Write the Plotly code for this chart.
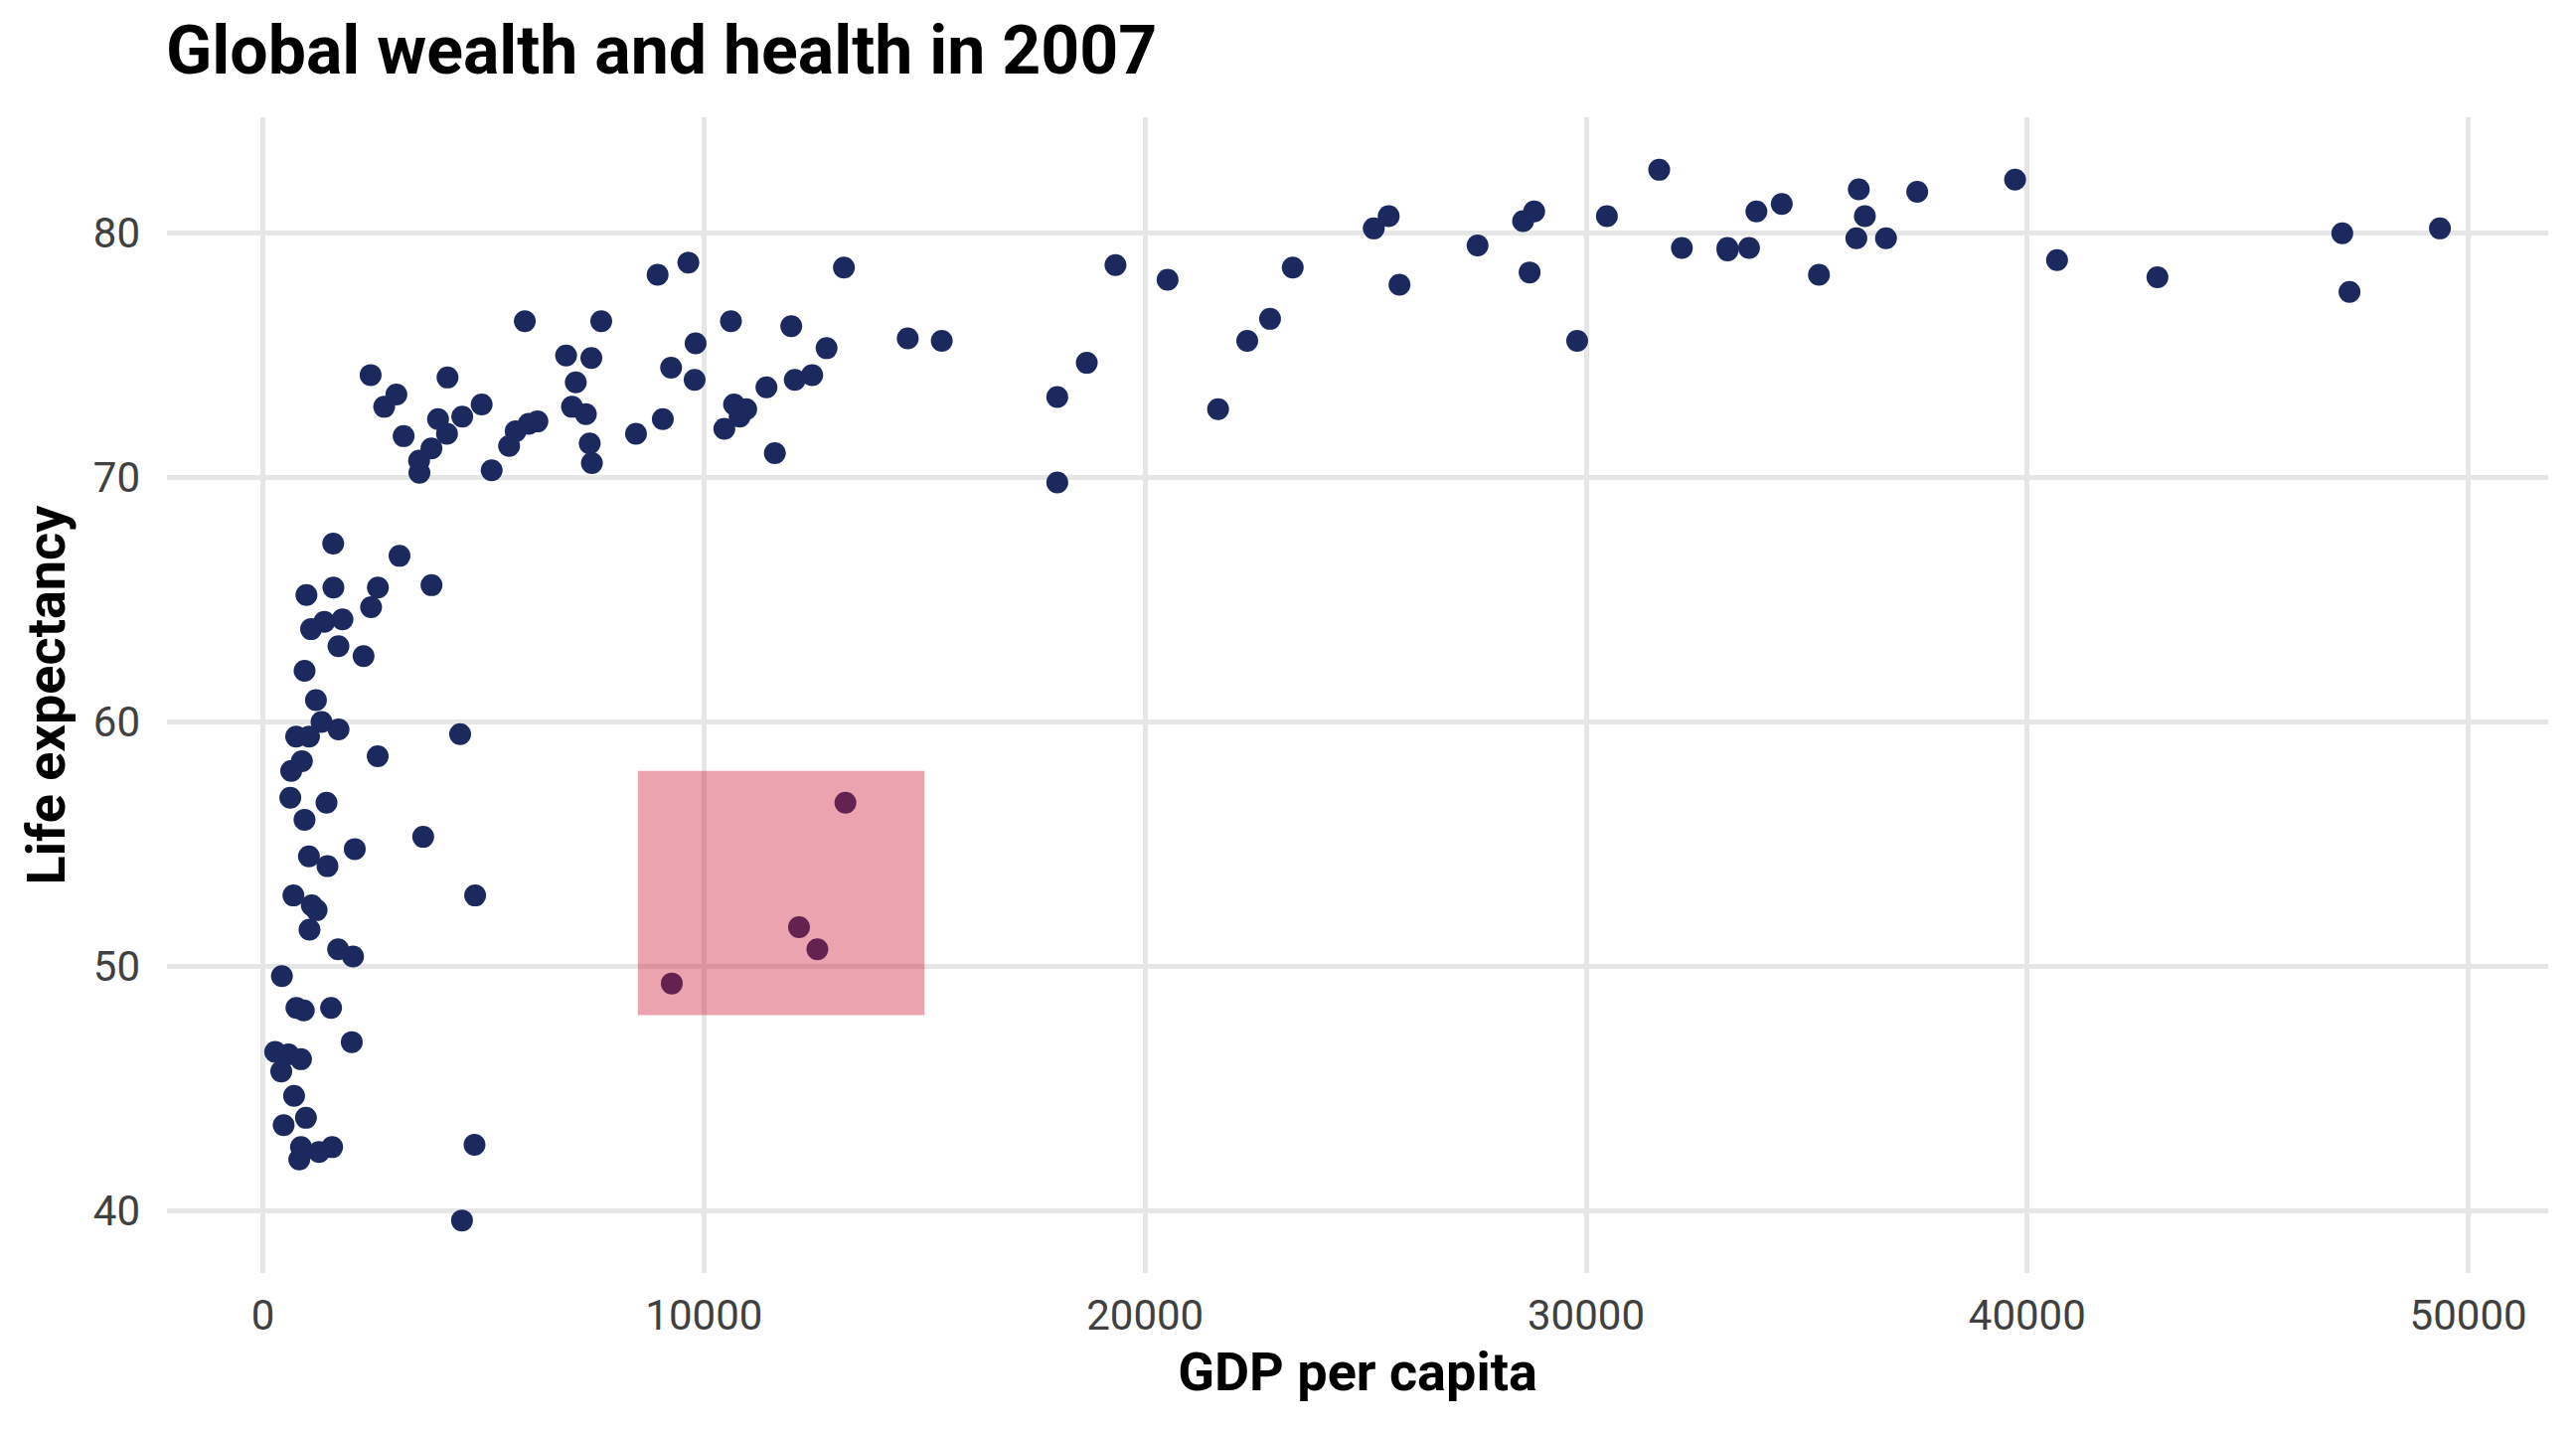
import plotly.graph_objects as go

# ---- data (gapminder-style values, 2007) ----
countries = [
    "Afghanistan", "Albania", "Algeria", "Angola", "Argentina", "Australia", "Austria", "Bahrain", "Bangladesh", "Belgium",
    "Benin", "Bolivia", "Bosnia and Herzegovina", "Botswana", "Brazil", "Bulgaria", "Burkina Faso", "Burundi", "Cambodia", "Cameroon",
    "Canada", "Central African Republic", "Chad", "Chile", "China", "Colombia", "Comoros", "Congo, Dem. Rep.", "Congo, Rep.", "Costa Rica",
    "Cote d'Ivoire", "Croatia", "Cuba", "Czech Republic", "Denmark", "Djibouti", "Dominican Republic", "Ecuador", "Egypt", "El Salvador",
    "Equatorial Guinea", "Eritrea", "Ethiopia", "Finland", "France", "Gabon", "Gambia", "Germany", "Ghana", "Greece",
    "Guatemala", "Guinea", "Guinea-Bissau", "Haiti", "Honduras", "Hong Kong, China", "Hungary", "Iceland", "India", "Indonesia",
    "Iran", "Iraq", "Ireland", "Israel", "Italy", "Jamaica", "Japan", "Jordan", "Kenya", "Korea, Dem. Rep.",
    "Korea, Rep.", "Kuwait", "Lebanon", "Lesotho", "Liberia", "Libya", "Madagascar", "Malawi", "Malaysia", "Mali",
    "Mauritania", "Mauritius", "Mexico", "Mongolia", "Montenegro", "Morocco", "Mozambique", "Myanmar", "Namibia", "Nepal",
    "Netherlands", "New Zealand", "Nicaragua", "Niger", "Nigeria", "Norway", "Oman", "Pakistan", "Panama", "Paraguay",
    "Peru", "Philippines", "Poland", "Portugal", "Puerto Rico", "Reunion", "Romania", "Rwanda", "Sao Tome and Principe", "Saudi Arabia",
    "Senegal", "Serbia", "Sierra Leone", "Singapore", "Slovak Republic", "Slovenia", "Somalia", "South Africa", "Spain", "Sri Lanka",
    "Sudan", "Swaziland", "Sweden", "Switzerland", "Syria", "Taiwan", "Tanzania", "Thailand", "Togo", "Trinidad and Tobago",
    "Tunisia", "Turkey", "Uganda", "United Kingdom", "United States", "Uruguay", "Venezuela", "Vietnam", "West Bank and Gaza", "Yemen, Rep.",
    "Zambia", "Zimbabwe",
]

gdp_per_capita = [
    975, 5937, 6223, 4797, 12779, 34435, 36126, 29796, 1391, 33693,
    1441, 3822, 7446, 12570, 9066, 10681, 1217, 430, 1714, 2042,
    36319, 706, 1704, 13172, 4959, 7007, 986, 278, 3633, 9645,
    1545, 14619, 8948, 22833, 35278, 2082, 6025, 6873, 5581, 5728,
    12154, 641, 691, 33207, 30470, 13206, 753, 32170, 1328, 27538,
    5186, 943, 579, 1202, 3548, 39725, 18009, 36181, 2452, 3541,
    11606, 4471, 40676, 25523, 28570, 7321, 31656, 4519, 1463, 1593,
    23348, 47307, 10461, 1569, 415, 12058, 1045, 759, 12452, 1043,
    1803, 10957, 11978, 3096, 9254, 3820, 824, 944, 4811, 1091,
    36798, 25185, 2749, 620, 2014, 49357, 22316, 2606, 9809, 4173,
    7409, 3190, 15390, 20510, 19329, 7670, 10808, 863, 1598, 21655,
    1712, 9787, 863, 47143, 18678, 25768, 926, 9270, 28821, 3970,
    2602, 4513, 33860, 37506, 4185, 28718, 1107, 7458, 883, 18009,
    7093, 8458, 1056, 33203, 42952, 10611, 11416, 2442, 3025, 2281,
    1271, 470,
]

life_expectancy = [
    43.8, 76.4, 72.3, 42.7, 75.3, 81.2, 79.8, 75.6, 64.1, 79.4,
    56.7, 65.6, 74.9, 50.7, 72.4, 73.0, 52.3, 49.6, 59.7, 50.4,
    80.7, 44.7, 50.7, 78.6, 73.0, 72.9, 65.2, 46.5, 55.3, 78.8,
    48.3, 75.7, 78.3, 76.5, 78.3, 54.8, 72.2, 75.0, 71.3, 71.9,
    51.6, 58.0, 52.9, 79.3, 80.7, 56.7, 59.4, 79.4, 60.0, 79.5,
    70.3, 56.0, 46.4, 60.9, 70.2, 82.2, 73.3, 81.8, 64.7, 70.7,
    71.0, 59.5, 78.9, 80.7, 80.5, 72.6, 82.6, 72.5, 54.1, 67.3,
    78.6, 77.6, 72.0, 42.6, 45.7, 74.0, 59.4, 48.3, 74.2, 54.5,
    64.2, 72.8, 76.2, 66.8, 74.5, 71.2, 42.1, 62.1, 52.9, 63.8,
    79.8, 80.2, 72.9, 56.9, 46.9, 80.2, 75.6, 65.5, 75.5, 71.8,
    71.4, 71.7, 75.6, 78.1, 78.7, 76.4, 72.5, 46.2, 65.5, 72.8,
    63.1, 74.0, 42.6, 80.0, 74.7, 77.9, 48.2, 49.3, 80.9, 72.4,
    58.6, 39.6, 80.9, 81.7, 74.1, 78.4, 52.5, 70.6, 58.4, 69.8,
    73.9, 71.8, 51.5, 79.4, 78.2, 76.4, 73.7, 74.2, 73.4, 62.7,
    42.4, 43.5,
]

x_ticks = [0, 10000, 20000, 30000, 40000, 50000]
y_ticks = [40, 50, 60, 70, 80]
highlight_x = [8500, 15000]
highlight_y = [48, 58]

assert len(countries) == len(gdp_per_capita) == len(life_expectancy)

# ggplot-like 5% expansion of the data range
def expanded(vals, f=0.05):
    lo, hi = min(vals), max(vals)
    pad = (hi - lo) * f
    return [lo - pad, hi + pad]

FONT = "Roboto, 'Open Sans', sans-serif"
GRID = "#E6E6E6"

fig = go.Figure()
fig.add_trace(go.Scatter(
    x=gdp_per_capita, y=life_expectancy, mode="markers", text=countries,
    marker=dict(size=22, color="#1B295E", line=dict(width=0)),
    hovertemplate="%{text}<br>GDP per capita: %{x}<br>Life expectancy: %{y}<extra></extra>",
    showlegend=False,
))

fig.add_shape(
    type="rect", xref="x", yref="y",
    x0=highlight_x[0], x1=highlight_x[1], y0=highlight_y[0], y1=highlight_y[1],
    fillcolor="rgba(207,25,58,0.4)", line=dict(width=0), layer="above",
)

fig.update_layout(
    width=2592, height=1440,
    margin=dict(l=168, r=28, t=118, b=159),
    paper_bgcolor="white", plot_bgcolor="white",
    font=dict(family=FONT, color="#404040"),
    title=dict(
        text="Global wealth and health in 2007",
        x=167 / 2592, xref="container", xanchor="left",
        y=1 - 50 / 1440, yref="container", yanchor="middle",
        font=dict(family=FONT, size=68, color="black", weight=700),
    ),
    xaxis=dict(
        range=expanded(gdp_per_capita), tickvals=x_ticks,
        ticktext=[str(v) for v in x_ticks],
        showgrid=True, gridcolor=GRID, gridwidth=4.5,
        zeroline=False, showline=False, ticks="",
        tickfont=dict(family=FONT, size=42, color="#404040"),
        ticklabelstandoff=14,
        title=dict(text="GDP per capita", standoff=14,
                   font=dict(family=FONT, size=54, color="black", weight=700)),
    ),
    yaxis=dict(
        range=expanded(life_expectancy), tickvals=y_ticks,
        ticktext=[str(v) for v in y_ticks],
        showgrid=True, gridcolor=GRID, gridwidth=4.5,
        zeroline=False, showline=False, ticks="",
        tickfont=dict(family=FONT, size=42, color="#404040"),
        ticklabelstandoff=26,
        title=dict(text="Life expectancy", standoff=10,
                   font=dict(family=FONT, size=54, color="black", weight=700)),
    ),
)

fig.write_html(
    "out.html",
    config={"displayModeBar": False},
    post_script="document.body.style.margin='0';document.body.style.overflow='hidden';",
)
